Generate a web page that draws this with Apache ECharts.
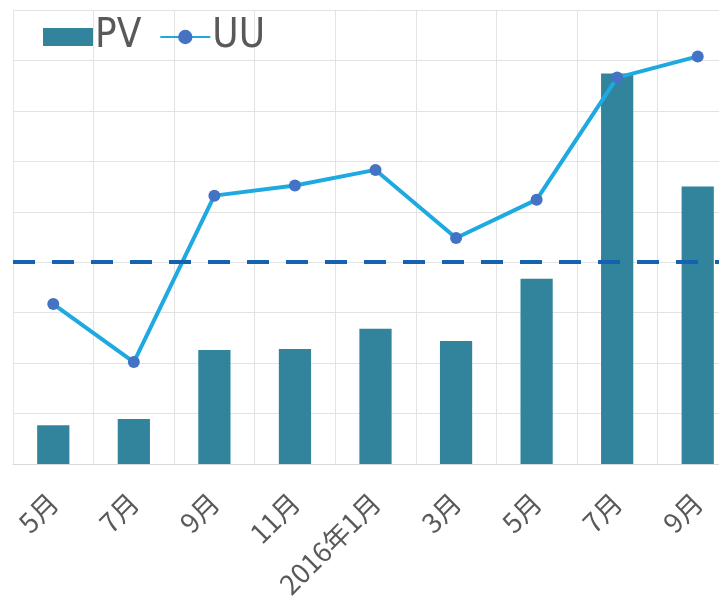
<!DOCTYPE html>
<html>
<head>
<meta charset="utf-8">
<script src="https://cdn.jsdelivr.net/npm/echarts@6/dist/echarts.min.js"></script>
<style>
html,body{margin:0;padding:0;background:#fff;overflow:hidden;width:719px;height:609px;}
#chart{width:738px;height:609px;}
</style>
</head>
<body>
<div id="chart"></div>
<script>
const categories = ['5月', '7月', '9月', '11月', '2016年1月', '3月', '5月', '7月', '9月'];
const pvValues = [0.77, 0.89, 2.26, 2.28, 2.68, 2.44, 3.67, 7.74, 5.50];
const uuValues = [3.17, 2.02, 5.32, 5.52, 5.83, 4.48, 5.24, 7.66, 8.08];
const referenceLine = [4.0];
const yTicks = { min: 0, max: 9, interval: 1 };

const chart = echarts.init(document.getElementById('chart'));
chart.setOption({
  animation: false,
  backgroundColor: '#ffffff',
  grid: { left: 13, top: 10, right: 0, bottom: 145, containLabel: false },
  legend: {
    left: 38, top: 12,
    itemWidth: 50, itemHeight: 18, itemGap: 18,
    textStyle: { fontSize: 40, color: '#595959', fontFamily: '"Liberation Sans Narrow", "DejaVu Sans Condensed", "Noto Sans", sans-serif', padding: [0, 0, 0, -3] },
    data: [
      { name: 'PV', icon: 'rect' },
      { name: 'UU' }
    ]
  },
  xAxis: {
    type: 'category',
    data: categories,
    boundaryGap: true,
    axisLine: { show: true, lineStyle: { color: '#d9d9d9', width: 1 } },
    axisTick: { show: false },
    splitLine: { show: true, lineStyle: { color: '#e3e3e3', width: 1 } },
    axisLabel: {
      interval: 0, rotate: 45, margin: 34,
      fontSize: 27, color: '#595959',
      fontFamily: '"Noto Sans CJK JP", "Noto Sans", sans-serif'
    }
  },
  yAxis: {
    type: 'value',
    min: yTicks.min, max: yTicks.max, interval: yTicks.interval,
    axisLine: { show: false },
    axisTick: { show: false },
    axisLabel: { show: false },
    splitLine: { show: true, lineStyle: { color: '#e3e3e3', width: 1 } }
  },
  series: [
    {
      name: 'PV', type: 'bar', data: pvValues,
      barWidth: '40%',
      itemStyle: { color: '#31849b' },
      z: 2
    },
    {
      name: 'UU', type: 'line', data: uuValues,
      symbol: 'circle', symbolSize: 12,
      lineStyle: { color: '#1ea9e1', width: 4 },
      itemStyle: { color: '#4472c4' },
      z: 4,
      markLine: {
        silent: true,
        symbol: ['none', 'none'],
        label: { show: false },
        lineStyle: { color: '#1462b0', width: 4, type: [22, 17] },
        data: [{ yAxis: referenceLine[0] }]
      }
    }
  ]
});
</script>
</body>
</html>
